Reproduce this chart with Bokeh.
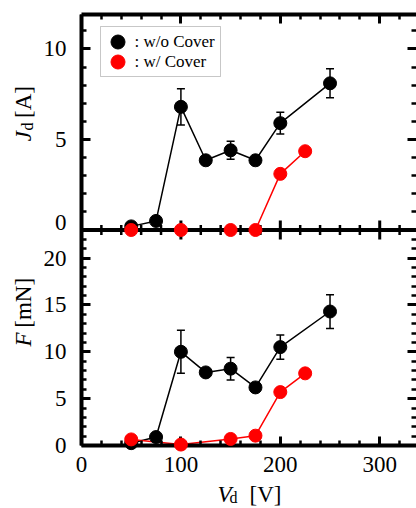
import math
from bokeh.plotting import figure
from bokeh.layouts import row, column
from bokeh.models import (Range1d, LinearAxis, FixedTicker, Span, Whisker, ColumnDataSource,
                          Legend, LegendItem, TeeHead, BoxAnnotation)
from bokeh.core.properties import value
from bokeh.embed import file_html
from bokeh.resources import INLINE

# ---------------- data ----------------
vd_wo = [50, 75, 100, 125, 150, 175, 200, 250]          # V_d [V], w/o cover
jd_wo = [0.2, 0.5, 6.8, 3.85, 4.4, 3.85, 5.9, 8.1]      # J_d [A]
jd_wo_err = [0, 0, 1.0, 0, 0.5, 0, 0.6, 0.8]
f_wo = [0.25, 0.9, 10.0, 7.8, 8.2, 6.2, 10.5, 14.3]      # F [mN]
f_wo_err = [0, 0, 2.3, 0, 1.2, 0, 1.3, 1.8]

vd_w = [50, 100, 150, 175, 200, 225]                    # V_d [V], w/ cover
jd_w = [0.0, 0.0, 0.0, 0.0, 3.1, 4.35]
f_w = [0.65, 0.1, 0.7, 1.05, 5.7, 7.7]

x_major = [0, 100, 200, 300]
x_minor = [v for v in range(20, 340, 20) if v % 100 != 0]
f_major = [0, 5, 10, 15, 20]
f_minor = [v for v in range(1, 23) if v % 5 != 0]
j_major = [0, 5, 10]
j_minor = [v for v in range(1, 12) if v % 5 != 0]

legend_labels = [": w/o Cover", ": w/ Cover"]

# ---------------- geometry ----------------
F_TOP = 23.0    # upper limit of F panel
J_TOP = 11.9    # upper limit of J panel
FONT = "Liberation Serif"
TICK_FS = "23px"
LEFT_W = 40
MAIN_H = 483
BOTTOM_H = 25


def j_to_f(j):
    return F_TOP + j * F_TOP / J_TOP


p = figure(width=416 - LEFT_W, height=MAIN_H, output_backend="svg", toolbar_location=None,
           x_range=Range1d(0, 337), y_range=Range1d(0, 2 * F_TOP),
           x_axis_type=None, y_axis_type=None,
           min_border_left=80 - LEFT_W, min_border_right=0, min_border_top=14,
           min_border_bottom=MAIN_H - 445,
           outline_line_color=None, background_fill_color="white", border_fill_color="white")
p.extra_y_ranges = {"J": Range1d(-J_TOP, J_TOP)}


def style_axis(ax):
    ax.axis_line_width = 4
    ax.axis_line_color = "black"
    ax.major_tick_in = 9
    ax.major_tick_out = 0
    ax.minor_tick_in = 5
    ax.minor_tick_out = 0
    ax.major_tick_line_width = 3
    ax.minor_tick_line_width = 2.5
    ax.major_label_text_font = FONT
    ax.major_label_text_font_size = TICK_FS
    ax.major_label_text_color = "black"


# x axes
xb = LinearAxis(ticker=FixedTicker(ticks=x_major, minor_ticks=x_minor))
style_axis(xb)
xb.major_label_standoff = 11
p.add_layout(xb, "below")

xt = LinearAxis(ticker=FixedTicker(ticks=x_major, minor_ticks=x_minor))
style_axis(xt)
xt.major_label_standoff = 0
xt.major_label_overrides = {t: "" for t in x_major}
p.add_layout(xt, "above")

# y axes: lower panel F, upper panel J mapped onto the same scale
y_tick_major = f_major + [j_to_f(j) for j in j_major if j > 0]
y_tick_minor = f_minor + [j_to_f(j) for j in j_minor]

# ticks + spine (no labels)
yl = LinearAxis(ticker=FixedTicker(ticks=y_tick_major, minor_ticks=y_tick_minor))
style_axis(yl)
yl.major_label_standoff = 0
yl.major_label_overrides = {t: "" for t in y_tick_major}
p.add_layout(yl, "left")

# labels only ("0" of the upper panel is raised a little above the separator)
J_ZERO_LIFT = 0.43
label_pos = f_major + [j_to_f(j if j > 0 else J_ZERO_LIFT) for j in j_major]
label_txt = [str(f) for f in f_major] + [str(j) for j in j_major]
yl2 = LinearAxis(ticker=FixedTicker(ticks=label_pos, minor_ticks=[]))
yl2.axis_line_color = None
yl2.major_tick_line_color = None
yl2.minor_tick_line_color = None
yl2.major_tick_in = 0
yl2.major_tick_out = 0
yl2.minor_tick_in = 0
yl2.minor_tick_out = 0
yl2.major_label_standoff = 15
yl2.major_label_text_font = FONT
yl2.major_label_text_font_size = TICK_FS
yl2.major_label_text_color = "black"
yl2.major_label_overrides = dict(zip(label_pos, label_txt))
p.add_layout(yl2, "left")

yr = LinearAxis(ticker=FixedTicker(ticks=y_tick_major, minor_ticks=y_tick_minor))
style_axis(yr)
yr.axis_line_color = None
yr.major_label_standoff = 0
yr.major_label_overrides = {t: "" for t in y_tick_major}
p.add_layout(yr, "right")

# separator between the panels, with ticks on both sides
p.add_layout(Span(location=F_TOP, dimension="width", line_width=4, line_color="black", level="guide"))
p.scatter(x_major[1:], [F_TOP] * (len(x_major) - 1), marker="dash", angle=math.pi / 2,
          size=19, line_width=3, line_color="black")
p.scatter(x_minor, [F_TOP] * len(x_minor), marker="dash", angle=math.pi / 2,
          size=10, line_width=2.5, line_color="black")


def whisker(xs, ys, errs, y_range_name="default"):
    xx = [x for x, e in zip(xs, errs) if e > 0]
    up = [y + e for y, e in zip(ys, errs) if e > 0]
    lo = [y - e for y, e in zip(ys, errs) if e > 0]
    src = ColumnDataSource(dict(x=xx, upper=up, lower=lo))
    w = Whisker(base="x", upper="upper", lower="lower", source=src, line_width=1.5,
                line_color="black", y_range_name=y_range_name,
                upper_head=TeeHead(size=8, line_width=1.5, line_color="black"),
                lower_head=TeeHead(size=8, line_width=1.5, line_color="black"))
    p.add_layout(w)


# ---- upper panel: J_d ----
p.line(vd_wo, jd_wo, y_range_name="J", line_color="black", line_width=1.5)
whisker(vd_wo, jd_wo, jd_wo_err, "J")
r_wo = p.scatter(vd_wo, jd_wo, y_range_name="J", size=13, fill_color="black", line_color="black",
                 level="overlay")
p.line(vd_w, jd_w, y_range_name="J", line_color="red", line_width=1.5)
r_w = p.scatter(vd_w, jd_w, y_range_name="J", size=13, fill_color="red", line_color="red",
                level="overlay")

# ---- lower panel: F ----
p.line(vd_wo, f_wo, line_color="black", line_width=1.5)
whisker(vd_wo, f_wo, f_wo_err)
p.scatter(vd_wo, f_wo, size=13, fill_color="black", line_color="black", level="overlay")
p.line(vd_w, f_w, line_color="red", line_width=1.5)
p.scatter(vd_w, f_w, size=13, fill_color="red", line_color="red", level="overlay")

# legend: framed box + one borderless legend per row (keeps the legend markers large)
p.add_layout(BoxAnnotation(left=19, right=139, bottom=369, top=419,
                           left_units="screen", right_units="screen",
                           bottom_units="screen", top_units="screen",
                           fill_color="white", fill_alpha=1.0,
                           line_color="#444444", line_width=1, level="annotation"))
for lab, rend, vy in zip(legend_labels, [r_wo, r_w], [385.8, 365.8]):
    lg = Legend(items=[LegendItem(label=lab, renderers=[rend])],
                location=(18.5, vy), padding=0, spacing=0, margin=0,
                glyph_width=35, glyph_height=35, label_standoff=0, label_height=20,
                label_text_font=FONT, label_text_font_size="17px", label_text_color="black",
                border_line_color=None, background_fill_alpha=0.0)
    p.add_layout(lg, "center")


# ---------------- axis titles (separate text panels) ----------------
def text_fig(w, h):
    f = figure(width=w, height=h, output_backend="svg", toolbar_location=None,
               x_range=Range1d(0, w), y_range=Range1d(h, 0),
               x_axis_type=None, y_axis_type=None,
               min_border_left=0, min_border_right=0, min_border_top=0, min_border_bottom=0,
               outline_line_color=None, background_fill_color="white", border_fill_color="white")
    return f


def piece(f, text, x, y, size, italic=False, angle=0.0):
    f.text(x=[x], y=[y], text=[text], angle=angle, text_align="left", text_baseline="alphabetic",
           text_font=value(FONT), text_font_size=value(size), text_color="black",
           text_font_style=value("italic" if italic else "normal"))


R = math.pi / 2
left = text_fig(LEFT_W, MAIN_H)
piece(left, "J", 23, 142, "23px", True, R)
piece(left, "d", 26.5, 130, "16px", False, R)
piece(left, "[A]", 23, 116, "23px", False, R)
piece(left, "F", 23, 372, "23px", True, R)
piece(left, "[mN]", 23, 351, "23px", False, R)

bottom = text_fig(416, BOTTOM_H)
piece(bottom, "V", 217, 494 - MAIN_H, "23px", True)
piece(bottom, "d", 229, 497 - MAIN_H, "16px", False)
piece(bottom, "[V]", 249, 494 - MAIN_H, "23px", False)

layout = column(row(left, p, spacing=0), bottom, spacing=0)
open("out.html", "w").write(file_html(layout, INLINE))
